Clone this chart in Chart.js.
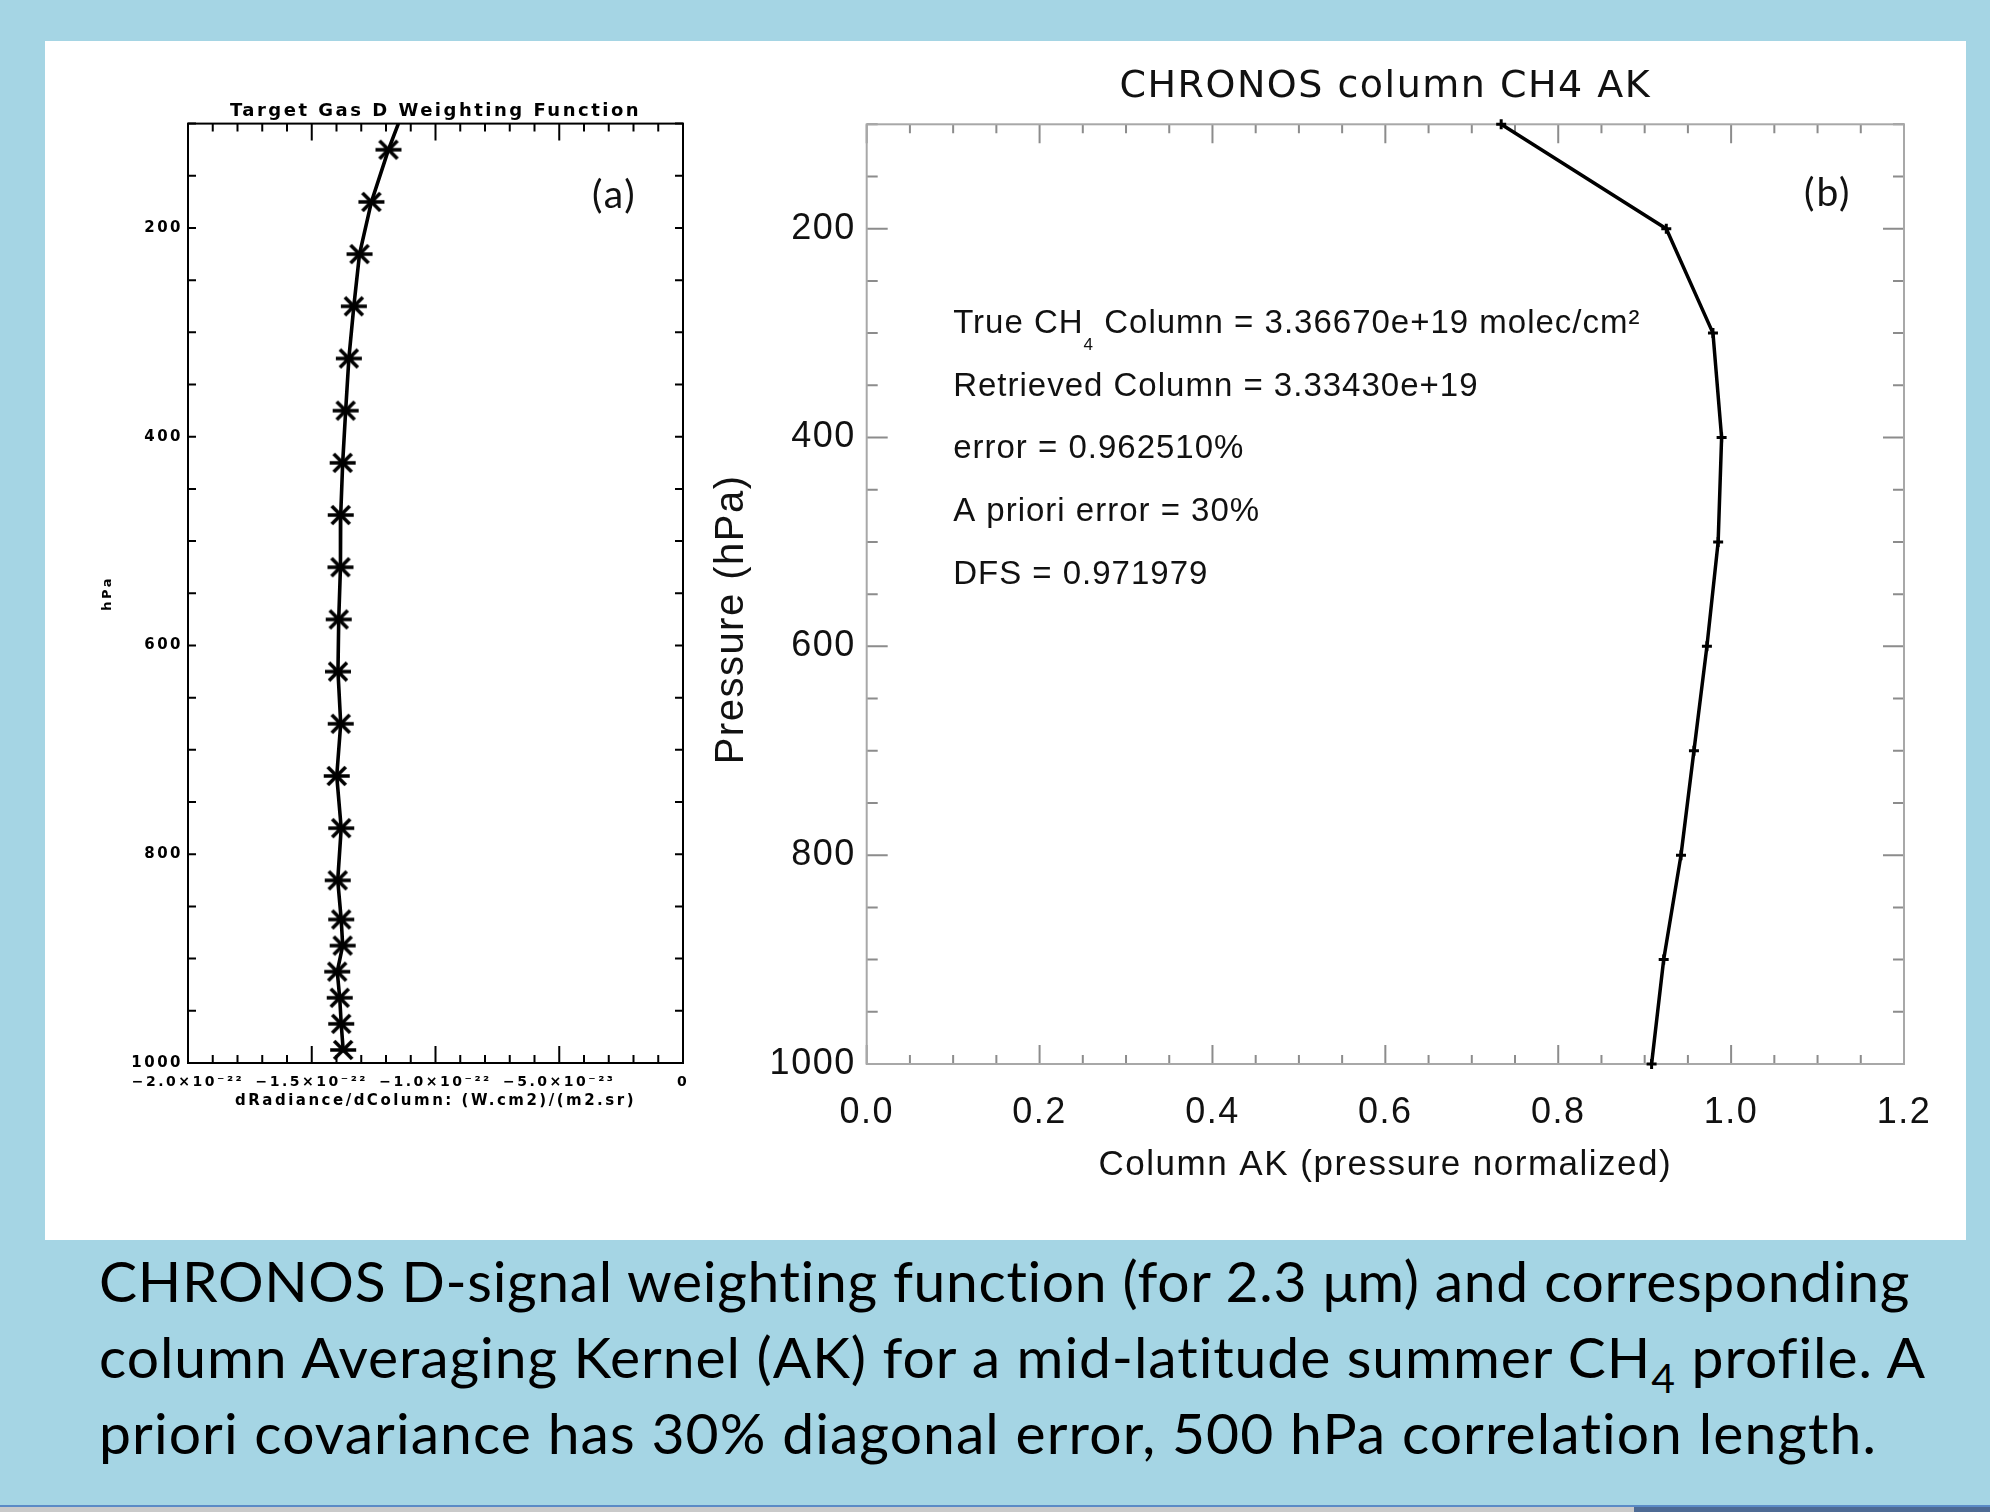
<!DOCTYPE html>
<html>
<head>
<meta charset="utf-8">
<script src="https://cdn.jsdelivr.net/npm/chart.js@4.4.1/dist/chart.umd.min.js"></script>
<style>
  html, body { margin: 0; padding: 0; }
  body { width: 1990px; height: 1512px; background: #a5d5e4; position: relative; overflow: hidden; }
  #panel { position: absolute; left: 45px; top: 41px; width: 1921px; height: 1199px; background: #fff; }
  canvas { position: absolute; }
  #chartA { left: 60px; top: 70px; }
  #chartB { left: 700px; top: 40px; }
  .tag { position: absolute; font-family: Lato, 'Open Sans', sans-serif; font-size: 39px; line-height: 39px; letter-spacing: 2px; color: #111; }
  .cap { position: absolute; left: 99px; font-family: Lato, 'Open Sans', sans-serif; font-size: 57px; line-height: 76px; color: #000; white-space: nowrap; }
  .cap .sub { font-size: 0.72em; vertical-align: -15px; }
  .strip { position: absolute; }
</style>
</head>
<body>
<div id="panel"></div>
<canvas id="chartA" width="660" height="1060"></canvas>
<canvas id="chartB" width="1250" height="1170"></canvas>
<div class="tag" style="left:592px; top:174px;">(a)</div>
<div class="tag" style="left:1804px; top:172px;">(b)</div>

<div class="cap" data-w="1813" style="top:1242px;">CHRONOS D-signal weighting function (for 2.3 μm) and corresponding</div>
<div class="cap" data-w="1827" style="top:1318px;">column Averaging Kernel (AK) for a mid-latitude summer CH<span class="sub">4</span> profile. A</div>
<div class="cap" data-w="1779" style="top:1394px;">priori covariance has 30% diagonal error, 500 hPa correlation length.</div>

<div class="strip" style="left:0; top:1505px; width:1990px; height:2px; background:#5a8ac6;"></div>
<div class="strip" style="left:0; top:1507px; width:1990px; height:5px; background:#c9c9c9;"></div>
<div class="strip" style="left:1634px; top:1507px; width:356px; height:5px; background:#4d6a94;"></div>

<script>
/* ======================================================
    DATA
====================================================== */
// panel (a): D-signal weighting function vs pressure
const aPressure = [100, 125, 175, 225, 275, 325, 375, 425, 475, 525, 575, 625, 675, 725, 775, 825,
                   862.5, 887.5, 912.5, 937.5, 962.5, 987.5];
const aWeight = [-1.150e-22, -1.190e-22, -1.259e-22, -1.307e-22, -1.330e-22, -1.350e-22, -1.363e-22,
                 -1.375e-22, -1.383e-22, -1.384e-22, -1.391e-22, -1.394e-22, -1.383e-22, -1.399e-22,
                 -1.381e-22, -1.395e-22, -1.381e-22, -1.375e-22, -1.397e-22, -1.387e-22, -1.381e-22,
                 -1.373e-22];
const aTickLabels = ['\u22122.0\u00d710\u207b\u00b2\u00b2', '\u22121.5\u00d710\u207b\u00b2\u00b2',
                     '\u22121.0\u00d710\u207b\u00b2\u00b2', '\u22125.0\u00d710\u207b\u00b2\u00b3', '0'];

// panel (b): column averaging kernel vs pressure
const bPressure = [100, 200, 300, 400, 500, 600, 700, 800, 900, 1000];
const bColumnAK = [0.734, 0.925, 0.979, 0.989, 0.985, 0.972, 0.957, 0.942, 0.922, 0.908];
const bTickLabels = ['0.0', '0.2', '0.4', '0.6', '0.8', '1.0', '1.2'];

const pressureLabels = [200, 400, 600, 800, 1000];

// text block inside panel (b), one baseline per line (hPa), starting at AK = 0.1
const bNoteX = 0.1;
const bNoteY = [300, 360, 420, 480, 540];
const bNotes = [
    [{ t: 'True CH' }, { t: '4', sub: true }, { t: ' Column = 3.36670e+19 molec/cm\u00b2' }],
    [{ t: 'Retrieved Column = 3.33430e+19' }],
    [{ t: 'error = 0.962510%' }],
    [{ t: 'A priori error = 30%' }],
    [{ t: 'DFS = 0.971979' }]
];

/* ======================================================
    HELPERS / PLUGINS
====================================================== */
const SANS = "'Liberation Sans', Arial, sans-serif";
const IDLBOLD = "'DejaVu Sans', sans-serif";

function minorTicks(min, step, count) {
    return Array.from({ length: count + 1 }, (_, i) => ({ value: min + i * step }));
}

function makeStar() {
    const c = document.createElement('canvas');
    c.width = 28; c.height = 22;
    const g = c.getContext('2d');
    g.strokeStyle = '#000';
    g.lineWidth = 3.6;
    g.beginPath();
    g.moveTo(1, 11); g.lineTo(27, 11);
    g.moveTo(5, 2); g.lineTo(23, 20);
    g.moveTo(23, 2); g.lineTo(5, 20);
    g.stroke();
    return c;
}

// letter spacing for everything the chart writes
const spacing = {
    id: 'spacing',
    beforeLayout(chart, args, o) { chart.ctx.letterSpacing = o.value; },
    beforeDraw(chart, args, o) { chart.ctx.letterSpacing = o.value; }
};

// IDL style box with inward ticks on all four sides
const innerTicks = {
    id: 'innerTicks',
    beforeDatasetsDraw(chart, args, o) {
        const { ctx, chartArea: a, scales: { x, y } } = chart;
        ctx.save();
        ctx.strokeStyle = o.tickColor;
        ctx.lineWidth = o.tickWidth;
        ctx.beginPath();
        x.ticks.forEach((t, i) => {
            const px = x.getPixelForValue(t.value);
            const len = i % o.xEvery === 0 ? o.xMajor : o.xMinor;
            ctx.moveTo(px, a.bottom); ctx.lineTo(px, a.bottom - len);
            ctx.moveTo(px, a.top); ctx.lineTo(px, a.top + len);
        });
        y.ticks.forEach(t => {
            const py = y.getPixelForValue(t.value);
            const len = t.value % 200 === 0 ? o.yMajor : o.yMinor;
            ctx.moveTo(a.left, py); ctx.lineTo(a.left + len, py);
            ctx.moveTo(a.right, py); ctx.lineTo(a.right - len, py);
        });
        ctx.stroke();
        ctx.strokeStyle = o.boxColor;
        ctx.lineWidth = o.boxWidth;
        ctx.strokeRect(a.left, a.top, a.right - a.left, a.bottom - a.top);
        ctx.restore();
    }
};

// free text placed in data coordinates
const notes = {
    id: 'notes',
    afterDatasetsDraw(chart, args, o) {
        if (!o.lines) return;
        const { ctx, scales: { x, y } } = chart;
        ctx.save();
        ctx.fillStyle = o.color;
        ctx.textAlign = 'left';
        ctx.textBaseline = 'alphabetic';
        ctx.letterSpacing = o.spacing;
        o.lines.forEach((segs, i) => {
            let px = x.getPixelForValue(o.x);
            const py = y.getPixelForValue(o.y[i]);
            segs.forEach(s => {
                ctx.font = s.sub ? o.subFont : o.font;
                ctx.fillText(s.t, px, s.sub ? py + o.subDrop : py);
                px += ctx.measureText(s.t).width;
            });
        });
        ctx.restore();
    }
};

function pressureAxis(font, color, pad, width, title) {
    return {
        type: 'linear', reverse: true, min: 100, max: 1000,
        afterBuildTicks: s => { s.ticks = minorTicks(100, 50, 18); },
        afterFit: s => { s.width = width; s.paddingTop = 0; s.paddingBottom = 0; },
        grid: { display: false, drawTicks: false },
        border: { display: false },
        ticks: {
            autoSkip: false, font: font, color: color, padding: pad,
            callback: v => pressureLabels.includes(v) ? String(v) : ''
        },
        title: title
    };
}

/* ======================================================
    CHART (a)
====================================================== */
function initChartA() {
    const star = makeStar();
    new Chart(document.getElementById('chartA').getContext('2d'), {
        type: 'scatter',
        data: {
            datasets: [{
                data: aPressure.map((p, i) => ({ x: aWeight[i], y: p })),
                showLine: true,
                borderColor: '#000',
                borderWidth: 3.6,
                pointStyle: star,
                pointRadius: c => c.dataIndex === 0 ? 0 : 10,
                clip: 2
            }]
        },
        options: {
            responsive: false,
            animation: false,
            events: [],
            layout: { padding: { left: 0, right: 37, top: 0, bottom: 0 } },
            scales: {
                x: {
                    type: 'linear', min: -2e-22, max: 0,
                    afterBuildTicks: s => { s.ticks = minorTicks(-2e-22, 1e-23, 20); },
                    afterFit: s => { s.height = 67; s.paddingLeft = 0; s.paddingRight = 0; },
                    grid: { display: false, drawTicks: false },
                    border: { display: false },
                    ticks: {
                        autoSkip: false, maxRotation: 0, minRotation: 0, padding: 11,
                        font: { family: IDLBOLD, size: 14, weight: 'bold' }, color: '#000',
                        callback: (v, i) => i % 5 === 0 ? aTickLabels[i / 5] : ''
                    },
                    title: {
                        display: true, text: 'dRadiance/dColumn: (W.cm2)/(m2.sr)', color: '#000',
                        font: { family: IDLBOLD, size: 15, weight: 'bold' },
                        padding: { top: 0, bottom: 20 }
                    }
                },
                y: pressureAxis({ family: IDLBOLD, size: 15, weight: 'bold' }, '#000', 5, 128, {
                    display: true, text: 'hPa', color: '#000',
                    font: { family: IDLBOLD, size: 13, weight: 'bold' },
                    padding: { top: 40, bottom: 0 }
                })
            },
            plugins: {
                legend: { display: false },
                tooltip: { enabled: false },
                title: {
                    display: true, fullSize: false, text: 'Target Gas D Weighting Function', color: '#000',
                    font: { family: IDLBOLD, size: 18, weight: 'bold' },
                    padding: { top: 30.5, bottom: 1.5 }
                },
                spacing: { value: '2.5px' },
                innerTicks: {
                    tickColor: '#000', tickWidth: 2, boxColor: '#000', boxWidth: 2,
                    xEvery: 5, xMajor: 17, xMinor: 8, yMajor: 8, yMinor: 8
                },
                notes: {}
            }
        },
        plugins: [spacing, innerTicks, notes]
    });
}

/* ======================================================
    CHART (b)
====================================================== */
function initChartB() {
    new Chart(document.getElementById('chartB').getContext('2d'), {
        type: 'scatter',
        data: {
            datasets: [{
                data: bPressure.map((p, i) => ({ x: bColumnAK[i], y: p })),
                showLine: true,
                borderColor: '#000',
                borderWidth: 3.5,
                pointStyle: 'cross',
                pointRadius: 5,
                pointBorderWidth: 3,
                pointBorderColor: '#000',
                clip: 6
            }]
        },
        options: {
            responsive: false,
            animation: false,
            events: [],
            layout: { padding: { left: 0, right: 46, top: 0, bottom: 0 } },
            scales: {
                x: {
                    type: 'linear', min: 0, max: 1.2,
                    afterBuildTicks: s => { s.ticks = minorTicks(0, 0.05, 24); },
                    afterFit: s => { s.height = 146; s.paddingLeft = 0; s.paddingRight = 0; },
                    grid: { display: false, drawTicks: false },
                    border: { display: false },
                    ticks: {
                        autoSkip: false, maxRotation: 0, minRotation: 0, padding: 27,
                        font: { family: SANS, size: 36 }, color: '#111',
                        callback: (v, i) => i % 4 === 0 ? bTickLabels[i / 4] : ''
                    },
                    title: {
                        display: true, text: 'Column AK (pressure normalized)', color: '#111',
                        font: { family: SANS, size: 35 },
                        padding: { top: 0, bottom: 24 }
                    }
                },
                y: pressureAxis({ family: SANS, size: 36 }, '#111', 11, 166.7, {
                    display: true, text: 'Pressure (hPa)    ', color: '#111',
                    font: { family: SANS, size: 40 },
                    padding: { top: 8, bottom: 0 }
                })
            },
            plugins: {
                legend: { display: false },
                tooltip: { enabled: false },
                title: {
                    display: true, fullSize: false, text: 'CHRONOS column CH4 AK', color: '#111',
                    font: { family: IDLBOLD, size: 38, weight: 'normal' },
                    padding: { top: 24, bottom: 14.7 }
                },
                spacing: { value: '1.5px' },
                innerTicks: {
                    tickColor: '#8c8c8c', tickWidth: 2, boxColor: '#a8a8a8', boxWidth: 2,
                    xEvery: 4, xMajor: 19, xMinor: 9, yMajor: 21, yMinor: 11
                },
                notes: {
                    lines: bNotes, x: bNoteX, y: bNoteY, color: '#111', spacing: '1px',
                    font: '33px ' + SANS, subFont: '17px ' + SANS, subDrop: 17
                }
            }
        },
        plugins: [spacing, innerTicks, notes]
    });
}

/* ======================================================
    CAPTION FIT
====================================================== */
function fitCaption() {
    document.querySelectorAll('.cap').forEach(el => {
        el.style.letterSpacing = '0px';
        const target = +el.dataset.w;
        const n = el.textContent.length;
        const w = el.getBoundingClientRect().width;
        el.style.letterSpacing = ((target - w) / n) + 'px';
    });
}

initChartA();
initChartB();
fitCaption();
</script>
</body>
</html>
